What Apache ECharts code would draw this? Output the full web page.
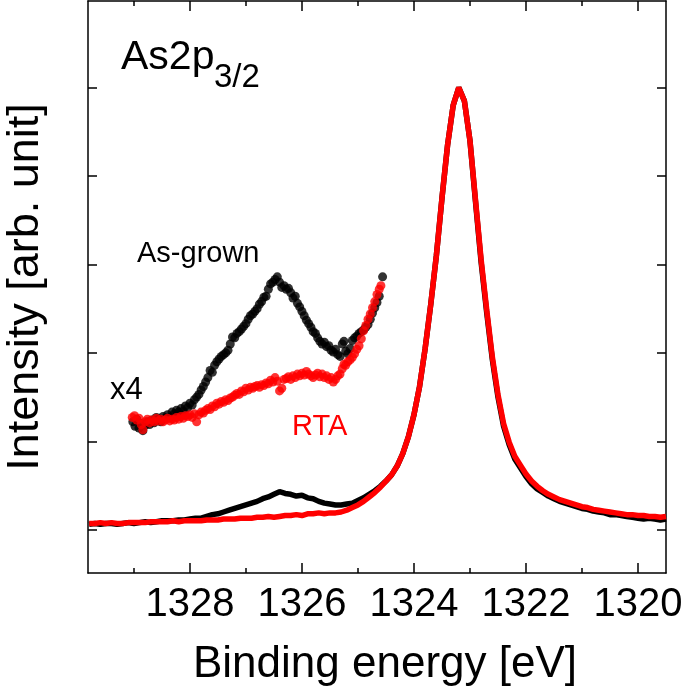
<!DOCTYPE html>
<html>
<head>
<meta charset="utf-8">
<script src="https://cdn.jsdelivr.net/npm/echarts@6/dist/echarts.min.js"></script>
<style>html,body{margin:0;padding:0;background:#fff}#c{width:685px;height:689px}</style>
</head>
<body>
<div id="c"></div>
<script>
// ---- data ----
const mainEnergy = [
 1329.8,1329.7,1329.6,1329.5,1329.4,1329.3,1329.2,1329.1,1329.0,1328.9,
 1328.8,1328.7,1328.6,1328.5,1328.4,1328.3,1328.2,1328.1,1328.0,1327.9,
 1327.8,1327.7,1327.6,1327.5,1327.4,1327.3,1327.2,1327.1,1327.0,1326.9,
 1326.8,1326.7,1326.6,1326.5,1326.4,1326.3,1326.2,1326.1,1326.0,1325.9,
 1325.8,1325.7,1325.6,1325.5,1325.4,1325.3,1325.2,1325.1,1325.0,1324.9,
 1324.8,1324.7,1324.6,1324.5,1324.4,1324.3,1324.2,1324.1,1324.0,1323.9,
 1323.8,1323.7,1323.6,1323.5,1323.4,1323.3,1323.2,1323.1,1323.0,1322.9,
 1322.8,1322.7,1322.6,1322.5,1322.4,1322.3,1322.2,1322.1,1322.0,1321.9,
 1321.8,1321.7,1321.6,1321.5,1321.4,1321.3,1321.2,1321.1,1321.0,1320.9,
 1320.8,1320.7,1320.6,1320.5,1320.4,1320.3,1320.2,1320.1,1320.0,1319.9,
 1319.8,1319.7,1319.6,1319.5
];
const mainAsGrown = [
 0.06,0.07,0.06,0.07,0.07,0.06,0.07,0.08,0.07,0.08,
 0.09,0.08,0.09,0.10,0.10,0.10,0.11,0.11,0.12,0.13,
 0.13,0.15,0.17,0.18,0.20,0.22,0.24,0.26,0.28,0.30,
 0.32,0.35,0.37,0.40,0.43,0.41,0.40,0.38,0.39,0.36,
 0.35,0.32,0.30,0.29,0.28,0.28,0.29,0.30,0.33,0.36,
 0.40,0.44,0.49,0.55,0.62,0.72,0.86,1.05,1.30,1.62,
 2.05,2.55,3.10,3.75,4.35,4.80,5.00,4.85,4.40,3.70,
 3.02,2.45,1.92,1.50,1.17,0.96,0.80,0.70,0.60,0.52,
 0.46,0.42,0.38,0.35,0.32,0.30,0.28,0.26,0.24,0.23,
 0.21,0.20,0.19,0.17,0.17,0.16,0.15,0.14,0.13,0.12,
 0.13,0.12,0.11,0.12
];
const mainRTA = [
 0.07,0.07,0.08,0.07,0.08,0.07,0.07,0.08,0.08,0.08,
 0.08,0.09,0.09,0.09,0.09,0.10,0.09,0.10,0.10,0.10,
 0.10,0.11,0.11,0.11,0.12,0.12,0.12,0.13,0.13,0.13,
 0.14,0.14,0.15,0.14,0.15,0.16,0.16,0.17,0.16,0.18,
 0.18,0.19,0.18,0.19,0.19,0.20,0.22,0.25,0.28,0.32,
 0.37,0.42,0.48,0.55,0.62,0.72,0.86,1.05,1.30,1.62,
 2.05,2.55,3.10,3.75,4.35,4.80,5.00,4.85,4.40,3.72,
 3.05,2.48,1.95,1.53,1.20,0.99,0.83,0.73,0.63,0.55,
 0.49,0.44,0.40,0.37,0.34,0.32,0.30,0.28,0.26,0.25,
 0.23,0.22,0.21,0.20,0.19,0.18,0.17,0.17,0.16,0.16,
 0.15,0.15,0.14,0.15
];
// x4 magnified region (energy, value) pairs
const x4AsGrown = [
 [1329.02,1.22],[1328.98,1.17],[1328.95,1.25],[1328.91,1.15],[1328.87,1.20],[1328.84,1.12],[1328.80,1.18],[1328.76,1.22],[1328.72,1.19],[1328.68,1.24],
 [1328.64,1.21],[1328.60,1.27],[1328.56,1.25],[1328.52,1.22],[1328.48,1.28],[1328.44,1.26],[1328.40,1.30],[1328.36,1.27],[1328.32,1.33],[1328.28,1.31],
 [1328.24,1.35],[1328.20,1.33],[1328.16,1.37],[1328.12,1.34],[1328.08,1.40],[1328.04,1.38],[1328.00,1.43],[1327.96,1.41],[1327.92,1.47],[1327.88,1.50],
 [1327.84,1.53],[1327.80,1.58],[1327.76,1.62],[1327.72,1.67],[1327.68,1.72],[1327.64,1.80],[1327.60,1.78],[1327.56,1.86],[1327.52,1.90],[1327.48,1.93],
 [1327.44,1.96],[1327.40,1.98],[1327.36,2.00],[1327.32,2.03],[1327.28,2.10],[1327.24,2.18],[1327.20,2.17],[1327.16,2.22],[1327.12,2.24],[1327.08,2.27],
 [1327.04,2.30],[1327.00,2.33],[1326.96,2.38],[1326.92,2.42],[1326.88,2.44],[1326.84,2.47],[1326.80,2.50],[1326.76,2.55],[1326.72,2.58],[1326.68,2.63],
 [1326.64,2.64],[1326.60,2.72],[1326.56,2.78],[1326.52,2.80],[1326.48,2.83],[1326.44,2.86],[1326.40,2.80],[1326.36,2.74],[1326.32,2.76],[1326.28,2.72],
 [1326.24,2.73],[1326.20,2.68],[1326.16,2.62],[1326.12,2.64],[1326.08,2.56],[1326.04,2.52],[1326.00,2.47],[1325.96,2.42],[1325.92,2.37],[1325.88,2.33],
 [1325.84,2.29],[1325.80,2.24],[1325.76,2.22],[1325.72,2.17],[1325.68,2.13],[1325.64,2.10],[1325.60,2.12],[1325.56,2.07],[1325.52,2.08],[1325.48,2.03],
 [1325.44,2.01],[1325.40,2.04],[1325.36,1.98],[1325.32,1.96],[1325.28,2.10],[1325.25,2.13],[1325.22,2.02],[1325.18,1.99],[1325.14,2.05],[1325.10,2.14],
 [1325.06,2.17],[1325.02,2.19],[1324.98,2.22],[1324.94,2.24],[1324.90,2.26],[1324.86,2.29],[1324.82,2.32],[1324.78,2.38],[1324.74,2.45],[1324.70,2.51],
 [1324.66,2.57],[1324.62,2.64],[1324.56,2.86]
];
const x4RTA = [
 [1329.03,1.27],[1328.99,1.29],[1328.95,1.24],[1328.91,1.26],[1328.87,1.19],[1328.84,1.13],[1328.80,1.22],[1328.76,1.25],[1328.72,1.21],[1328.68,1.24],
 [1328.64,1.22],[1328.60,1.26],[1328.56,1.23],[1328.52,1.25],[1328.48,1.22],[1328.44,1.24],[1328.40,1.26],[1328.36,1.23],[1328.32,1.25],[1328.28,1.24],
 [1328.24,1.27],[1328.20,1.25],[1328.16,1.28],[1328.12,1.26],[1328.08,1.29],[1328.04,1.28],[1328.00,1.30],[1327.96,1.27],[1327.92,1.31],[1327.88,1.22],
 [1327.84,1.30],[1327.80,1.33],[1327.76,1.32],[1327.72,1.35],[1327.68,1.37],[1327.64,1.36],[1327.60,1.40],[1327.56,1.39],[1327.52,1.43],[1327.48,1.42],
 [1327.44,1.45],[1327.40,1.44],[1327.36,1.47],[1327.32,1.46],[1327.28,1.49],[1327.24,1.50],[1327.20,1.52],[1327.16,1.54],[1327.12,1.53],[1327.08,1.57],
 [1327.04,1.56],[1327.00,1.60],[1326.96,1.58],[1326.92,1.61],[1326.88,1.60],[1326.84,1.62],[1326.80,1.63],[1326.76,1.61],[1326.72,1.64],[1326.68,1.63],
 [1326.64,1.66],[1326.60,1.65],[1326.56,1.69],[1326.52,1.67],[1326.48,1.72],[1326.44,1.68],[1326.40,1.57],[1326.36,1.60],[1326.32,1.70],[1326.28,1.71],
 [1326.24,1.73],[1326.20,1.70],[1326.16,1.74],[1326.12,1.72],[1326.08,1.76],[1326.04,1.74],[1326.00,1.77],[1325.96,1.75],[1325.92,1.79],[1325.88,1.76],
 [1325.84,1.74],[1325.80,1.72],[1325.76,1.75],[1325.72,1.77],[1325.68,1.73],[1325.64,1.76],[1325.60,1.72],[1325.56,1.74],[1325.52,1.70],[1325.48,1.72],
 [1325.44,1.67],[1325.40,1.70],[1325.36,1.74],[1325.32,1.76],[1325.28,1.82],[1325.25,1.87],[1325.22,1.86],[1325.18,1.90],[1325.14,1.92],[1325.10,1.95],
 [1325.06,1.99],[1325.02,2.04],[1324.98,2.08],[1324.94,2.16],[1324.90,2.25],[1324.86,2.31],[1324.82,2.38],[1324.78,2.44],[1324.74,2.51],[1324.70,2.58],
 [1324.66,2.66],[1324.62,2.72],[1324.59,2.76]
];
const xMajorTicks = [1320, 1322, 1324, 1326, 1328];
const xMinorTicks = [1321, 1323, 1325, 1327, 1329];
const yTicks = [0, 1, 2, 3, 4, 5];
const xRange = [1319.5, 1329.82];
const yRange = [-0.49, 5.98];

// ---- chart ----
const FONT = '"Liberation Sans", Arial, sans-serif';
const chart = echarts.init(document.getElementById('c'), null, {renderer: 'canvas'});
const pairs = (xs, ys) => xs.map((x, i) => [x, ys[i]]);
const lineW = 1.5;
const baseX = (pos, ticks, len, showLine) => ({
  type: 'value', position: pos, min: xRange[0], max: xRange[1], inverse: true,
  axisLine: {show: showLine, onZero: false, lineStyle: {color: '#000', width: lineW}},
  axisTick: {show: true, inside: true, length: len, customValues: ticks, lineStyle: {color: '#000', width: lineW}},
  axisLabel: {show: false},
  splitLine: {show: false}
});
const baseY = (pos) => ({
  type: 'value', position: pos, min: yRange[0], max: yRange[1],
  axisLine: {show: true, onZero: false, lineStyle: {color: '#000', width: lineW}},
  axisTick: {show: true, inside: true, length: 9, customValues: yTicks, lineStyle: {color: '#000', width: lineW}},
  axisLabel: {show: false},
  splitLine: {show: false}
});
const xBottom = baseX('bottom', xMajorTicks, 10, true);
xBottom.axisLabel = {show: true, customValues: xMajorTicks, fontSize: 40, color: '#000', fontFamily: FONT, margin: 12,
  formatter: (v) => String(v)};
xBottom.name = 'Binding energy [eV]';
xBottom.nameLocation = 'middle';
xBottom.nameGap = 70;
xBottom.nameTextStyle = {fontSize: 44, color: '#000', fontFamily: FONT, padding: [0, 0, 0, 16]};
const yLeft = baseY('left');
yLeft.name = 'Intensity [arb. unit]';
yLeft.nameLocation = 'middle';
yLeft.nameGap = 40;
yLeft.nameTextStyle = {fontSize: 45, color: '#000', fontFamily: FONT};

chart.setOption({
  animation: false,
  backgroundColor: '#fff',
  grid: {left: 88, right: 19, top: 1, bottom: 116, containLabel: false, outerBoundsMode: 'none'},
  xAxis: [xBottom, baseX('bottom', xMinorTicks, 5, false), baseX('top', xMajorTicks, 10, true), baseX('top', xMinorTicks, 5, false)],
  yAxis: [yLeft, baseY('right')],
  series: [
    {name: 'As-grown', type: 'line', data: pairs(mainEnergy, mainAsGrown), showSymbol: false, symbol: 'none',
     lineStyle: {color: '#000', width: 5.5}, z: 2},
    {name: 'RTA', type: 'line', data: pairs(mainEnergy, mainRTA), showSymbol: false, symbol: 'none',
     lineStyle: {color: '#ff0000', width: 5.5}, z: 3},
    {name: 'As-grown x4', type: 'scatter', data: x4AsGrown, symbol: 'circle', symbolSize: 9,
     itemStyle: {color: '#000'}, z: 4},
    {name: 'RTA x4', type: 'scatter', data: x4RTA, symbol: 'circle', symbolSize: 9,
     itemStyle: {color: '#ff0000'}, z: 5}
  ],
  graphic: [
    {type: 'text', left: 121, top: 37, style: {text: 'As2p', fill: '#000', font: '41px ' + FONT}},
    {type: 'text', left: 214, top: 61, style: {text: '3/2', fill: '#000', font: '33px ' + FONT}},
    {type: 'text', left: 137, top: 239, style: {text: 'As-grown', fill: '#000', font: '29px ' + FONT}},
    {type: 'text', left: 110, top: 375, style: {text: 'x4', fill: '#000', font: '31px ' + FONT}},
    {type: 'text', left: 292, top: 412, style: {text: 'RTA', fill: '#ff0000', font: '29px ' + FONT}}
  ]
});
</script>
</body>
</html>
